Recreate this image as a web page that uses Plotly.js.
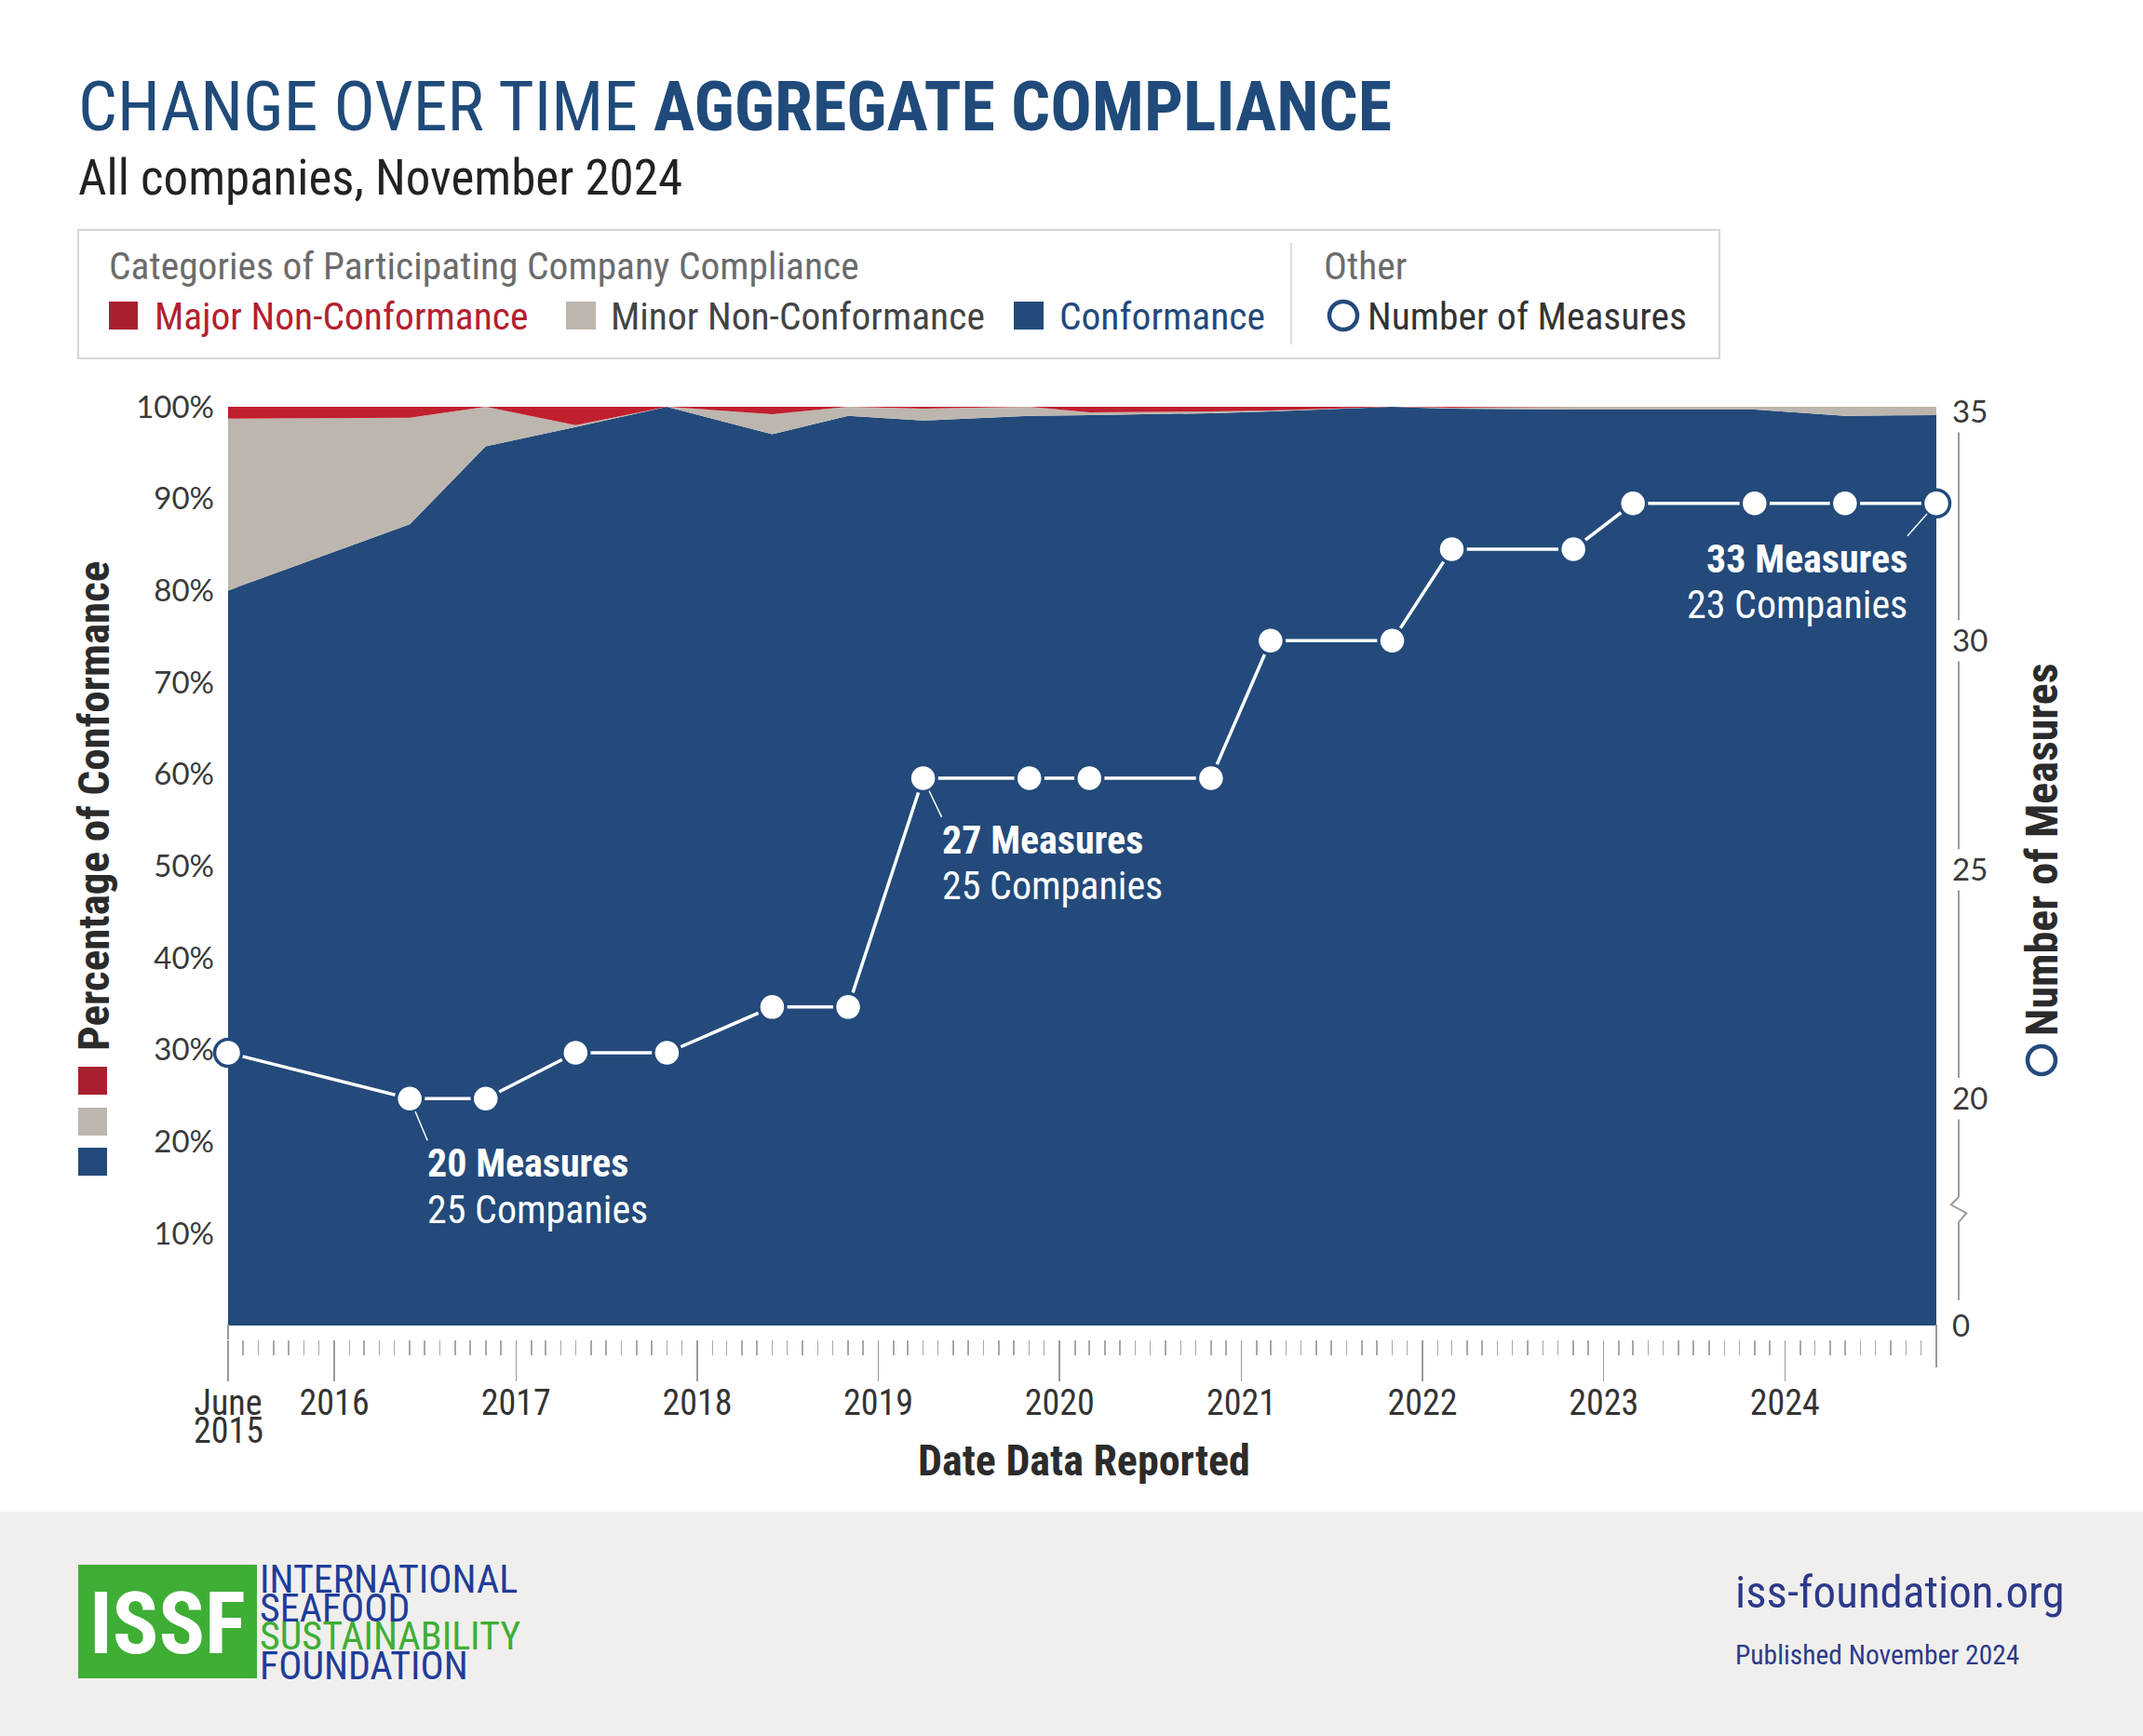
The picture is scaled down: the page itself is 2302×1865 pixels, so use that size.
<!DOCTYPE html>
<html>
<head>
<meta charset="utf-8">
<script src="https://cdn.plot.ly/plotly-3.0.1.min.js"></script>
<style>
html,body{margin:0;padding:0;background:#fff;}
#chart{width:2302px;height:1865px;}
</style>
</head>
<body>
<div id="chart"></div>
<script>
// ---------------- DATA ----------------
const DATES = ['2015-06-01','2016-06-01','2016-11-01','2017-05-01','2017-11-01','2018-06-01','2018-11-01','2019-04-01','2019-11-01','2020-03-01','2020-11-01','2021-03-01','2021-11-01','2022-03-01','2022-11-01','2023-03-01','2023-11-01','2024-05-01','2024-11-01'];
const CONFORMANCE = [80.0, 87.2, 95.7, 97.8, 100, 97.0, 99.0, 98.5, 99.0, 99.1, 99.3, 99.5, 100, 99.8, 99.7, 99.7, 99.7, 99.0, 99.1];
const MINOR_NC   = [18.7, 11.6, 4.3, 0.2, 0, 2.2, 1.0, 1.3, 1.0, 0.3, 0.2, 0.1, 0, 0.1, 0.3, 0.3, 0.3, 1.0, 0.9];
const MAJOR_NC   = [1.3, 1.2, 0, 2.0, 0, 0.8, 0, 0.2, 0, 0.6, 0.5, 0.4, 0, 0.1, 0, 0, 0, 0, 0];
const MEASURES   = [21, 20, 20, 21, 21, 22, 22, 27, 27, 27, 27, 30, 30, 32, 32, 33, 33, 33, 33];

const CALLOUT_INDEX = [1, 7, 18];
const CALLOUT_COMPANIES = [25, 25, 23];

const X_TICK_VALS = ['2015-06-01','2016-01-01','2017-01-01','2018-01-01','2019-01-01','2020-01-01','2021-01-01','2022-01-01','2023-01-01','2024-01-01'];
const X_TICK_TEXT = ['June','2016','2017','2018','2019','2020','2021','2022','2023','2024'];
const X_FIRST_YEAR = '2015';
const Y_TICK_VALS = [10,20,30,40,50,60,70,80,90,100];
const Y_TICK_TEXT = Y_TICK_VALS.map(v => v + '%');
const Y2_TICK_VALS = [15.045, 20, 25, 30, 35];
const Y2_TICK_TEXT = ['0', '20', '25', '30', '35'];
const X_RANGE = ['2015-06-01', '2024-11-01'];

// ---------------- STYLE ----------------
const COND = '"Roboto Condensed", "Liberation Sans Narrow", "Arial Narrow", "DejaVu Sans Condensed", Roboto, sans-serif';
const TICKF = 'Lato, "Open Sans", sans-serif';
const BLUE = '#234a7b', GRAYA = '#bdb6ae', REDA = '#c01f2e';

const L = 245, R = 2080, T = 437, B = 1439;
const W = R - L, H = B - T;
const px = x => (x - L) / W;
const py = y => (B - y) / H;

const traces = [
  {x: DATES, y: CONFORMANCE, name: 'Conformance', stackgroup: 'pct', mode: 'none',
   fillcolor: BLUE, line: {width: 0}, hoverinfo: 'skip'},
  {x: DATES, y: MINOR_NC, name: 'Minor Non-Conformance', stackgroup: 'pct', mode: 'none',
   fillcolor: GRAYA, line: {width: 0}, hoverinfo: 'skip'},
  {x: DATES, y: MAJOR_NC, name: 'Major Non-Conformance', stackgroup: 'pct', mode: 'none',
   fillcolor: REDA, line: {width: 0}, hoverinfo: 'skip'},
  {x: DATES, y: MEASURES, yaxis: 'y2', name: 'Number of Measures', mode: 'lines+markers',
   line: {color: '#ffffff', width: 3.5},
   marker: {size: 29, color: '#ffffff', line: {color: BLUE, width: 3.5}},
   cliponaxis: false, hoverinfo: 'skip'}
];

const ann = [];
const shapes = [];
function txt(x, y, text, size, color, opts) {
  ann.push(Object.assign({xref: 'paper', yref: 'paper', x: px(x), y: py(y), text: text,
    showarrow: false, xanchor: 'left', yanchor: 'middle',
    font: {family: COND, size: size, color: color}, borderpad: 0, borderwidth: 0}, opts || {}));
}
function rect(x0, y0, x1, y1, color, extra) {
  shapes.push(Object.assign({type: 'rect', xref: 'paper', yref: 'paper', x0: px(x0), x1: px(x1), y0: py(y1), y1: py(y0),
    fillcolor: color, line: {width: 0}}, extra || {}));
}
function circ(cx, cy, r, color) {
  shapes.push({type: 'circle', xref: 'paper', yref: 'paper', x0: px(cx - r), x1: px(cx + r), y0: py(cy + r), y1: py(cy - r),
    fillcolor: '#ffffff', line: {color: color, width: 4.5}});
}
function seg(x0, y0, x1, y1, color, w) {
  shapes.push({type: 'line', xref: 'paper', yref: 'paper', x0: px(x0), x1: px(x1), y0: py(y0), y1: py(y1),
    line: {color: color, width: w}});
}

// subtitle
txt(84, 191, 'All companies, November 2024', 53, '#222222');

// legend box
shapes.push({type: 'rect', xref: 'paper', yref: 'paper', x0: px(84), x1: px(1847), y0: py(385), y1: py(247),
  fillcolor: 'rgba(0,0,0,0)', line: {color: '#d6d6d6', width: 2}});
txt(117, 285, 'Categories of Participating Company Compliance', 41.5, '#6b6b6b');
rect(117, 324, 148, 354, '#a8202f');
txt(166, 339, 'Major Non-Conformance', 41.5, '#b3202f');
rect(608, 324, 640, 354, GRAYA);
txt(656, 339, 'Minor Non-Conformance', 41.5, '#444444');
rect(1089, 324, 1121, 354, BLUE);
txt(1138, 339, 'Conformance', 41.5, BLUE);
seg(1387, 261, 1387, 370, '#dddddd', 2);
txt(1422, 285, 'Other', 41.5, '#6b6b6b');
circ(1443, 339, 15, BLUE);
txt(1469, 339, 'Number of Measures', 41.5, '#333333');

// left axis title + colour keys
txt(100, 866, '<b>Percentage of Conformance</b>', 47, '#2b2b2b', {xanchor: 'center', textangle: -90});
rect(84, 1146, 115, 1176, '#a8202f');
rect(84, 1190, 115, 1220, GRAYA);
rect(84, 1233, 115, 1263, BLUE);

// right axis title + circle
txt(2193, 913, '<b>Number of Measures</b>', 48, '#2b2b2b', {xanchor: 'center', textangle: -90});
circ(2193, 1139, 15, BLUE);

// x axis title and second line of first tick label
txt(1164, 1569, '<b>Date Data Reported</b>', 46, '#2b2b2b', {xanchor: 'center'});
ann.push({xref: 'x', yref: 'paper', x: X_RANGE[0], y: py(1537), text: X_FIRST_YEAR, showarrow: false,
  xanchor: 'center', yanchor: 'middle', font: {family: COND, size: 38, color: '#333333'}, borderpad: 0, borderwidth: 0});

// right axis line with gaps and break
const RX = px(2104);
const Y2SEGS = [[34.55, 30.45], [29.55, 25.45], [24.55, 20.45], [19.55, 17.85], [17.3, 15.6]];
Y2SEGS.forEach(s => shapes.push({type: 'line', xref: 'paper', yref: 'y2', x0: RX, x1: RX, y0: s[0], y1: s[1],
  line: {color: '#9a9a9a', width: 2}}));
shapes.push({type: 'path', xref: 'paper', yref: 'y2',
  path: `M ${RX},17.85 L ${RX - 0.0045},17.68 L ${RX + 0.0045},17.5 L ${RX},17.3`,
  line: {color: '#9a9a9a', width: 2}});

// axis end lines in the gap between plot and ticks
shapes.push({type: 'line', xref: 'paper', yref: 'paper', x0: 0, x1: 0, y0: 0, y1: 0.016, line: {color: '#9a9a9a', width: 2}});
shapes.push({type: 'line', xref: 'paper', yref: 'paper', x0: 1, x1: 1, y0: -0.03, y1: 0.016, line: {color: '#9a9a9a', width: 2}});

// footer
rect(0, 1624, 2302, 1865, '#f0efed', {layer: 'below'});
rect(84, 1681, 276, 1803, '#3eae35');
txt(180, 1744, '<b>ISSF</b>', 92, '#ffffff', {xanchor: 'center'});
txt(279, 1696, 'INTERNATIONAL', 42, '#1f3c99');
txt(279, 1727, 'SEAFOOD', 42, '#1f3c99');
txt(279, 1758, 'SUSTAINABILITY', 42, '#3eae35');
txt(279, 1789, 'FOUNDATION', 42, '#1f3c99');
txt(1864, 1710, 'iss-foundation.org', 49, '#2c3a8a');
txt(1864, 1778, 'Published November 2024', 29.5, '#2c3a8a');

// callouts: [x offset, line-1 centre offset, line-2 centre offset, side]  (pixels)
const CALLOUT_OFFSETS = [[19, 72, 119, 'left'], [20, 69, 116, 'left'], [-31, 62, 109, 'right']];
const CF = 42, HALF = 27;
CALLOUT_INDEX.forEach((idx, k) => {
  const o = CALLOUT_OFFSETS[k];
  ann.push({xref: 'x', yref: 'y2', x: DATES[idx], y: MEASURES[idx],
    text: `<b>${MEASURES[idx]} Measures</b>`,
    showarrow: true, arrowhead: 0, arrowwidth: 1.5, arrowcolor: '#ffffff', standoff: 15,
    ax: o[0], ay: o[1] - HALF, xanchor: o[3], yanchor: 'top', align: o[3],
    font: {family: COND, size: CF, color: '#ffffff'}, borderpad: 0, borderwidth: 0});
  ann.push({xref: 'x', yref: 'y2', x: DATES[idx], y: MEASURES[idx],
    text: `${CALLOUT_COMPANIES[k]} Companies`, showarrow: false,
    xshift: o[0], yshift: -o[2], xanchor: o[3], yanchor: 'middle', align: o[3],
    font: {family: COND, size: CF, color: '#ffffff'}, borderpad: 0, borderwidth: 0});
});

const layout = {
  width: 2302, height: 1865,
  margin: {l: L, r: 2302 - R, t: T, b: 1865 - B, pad: 0},
  paper_bgcolor: '#ffffff', plot_bgcolor: '#ffffff',
  showlegend: false,
  title: {text: 'CHANGE OVER TIME <b>AGGREGATE COMPLIANCE</b>',
    font: {family: COND, size: 74, color: '#1f4a7a'},
    x: 84 / 2302, xanchor: 'left', xref: 'container',
    y: 1 - 114 / 1865, yanchor: 'middle', yref: 'container', pad: {t: 0, b: 0, l: 0, r: 0}},
  xaxis: {type: 'date', range: X_RANGE, anchor: 'free', position: 0,
    tickmode: 'array', tickvals: X_TICK_VALS, ticktext: X_TICK_TEXT,
    ticks: 'outside', ticklen: 44, tickwidth: 1.5, tickcolor: '#9a9a9a', ticklabelstandoff: -10,
    minor: {ticks: 'outside', dtick: 'M1', tick0: '2015-06-01', ticklen: 16, tickwidth: 1.5, tickcolor: '#a8a8a8', showgrid: false},
    showgrid: false, zeroline: false, showline: false,
    tickfont: {family: COND, size: 38, color: '#333333'}, fixedrange: true},
  yaxis: {domain: [0.015, 1], range: [0, 100], tickmode: 'array', tickvals: Y_TICK_VALS, ticktext: Y_TICK_TEXT,
    ticks: '', showgrid: false, zeroline: false, showline: false, ticklabelstandoff: 14,
    tickfont: {family: TICKF, size: 33, color: '#3a3a3a'}, fixedrange: true},
  yaxis2: {overlaying: 'y', side: 'right', anchor: 'x', range: [15.045, 35.11],
    tickmode: 'array', tickvals: Y2_TICK_VALS, ticktext: Y2_TICK_TEXT,
    ticks: '', showgrid: false, zeroline: false, showline: false, ticklabelstandoff: 16,
    tickfont: {family: TICKF, size: 33, color: '#3a3a3a'}, fixedrange: true},
  annotations: ann,
  shapes: shapes
};

Plotly.newPlot('chart', traces, layout, {displayModeBar: false, staticPlot: true});
</script>
</body>
</html>
